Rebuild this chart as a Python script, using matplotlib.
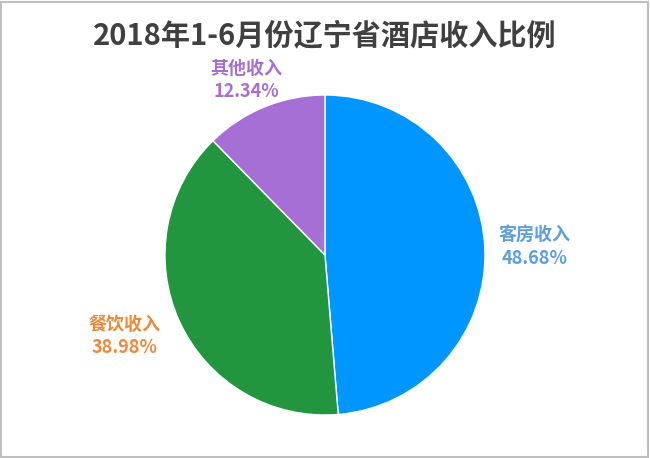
import numpy as np
import matplotlib
matplotlib.use('Agg')
import matplotlib.pyplot as plt
from matplotlib.patches import Rectangle

plt.rcParams['font.family'] = ['Noto Sans CJK SC', 'DejaVu Sans']

# data
labels = ['客房收入', '餐饮收入', '其他收入']
shares = [48.68, 38.98, 12.34]
wedge_colors = ['#0096FF', '#21963F', '#A66FD6']
text_colors = ['#5B9FE0', '#F0883A', '#A66FD6']
label_dist = [1.31, 1.35, 1.20]
label_turn = [0, -2.5, 2]

fig = plt.figure(figsize=(6.5, 4.58), dpi=100)
ax = fig.add_axes([0.2538, 0.0939, 0.4923, 0.6987])

wedges, _ = ax.pie(shares, colors=wedge_colors, startangle=90, counterclock=False,
                   wedgeprops=dict(edgecolor='white', linewidth=1))
ax.set_aspect('equal')
ax.set_xlim(-1, 1)
ax.set_ylim(-1, 1)

for w, lab, val, c, d, t in zip(wedges, labels, shares, text_colors, label_dist, label_turn):
    ang = np.deg2rad((w.theta1 + w.theta2) / 2 + t)
    x, y = d * np.cos(ang), d * np.sin(ang)
    ax.text(x, y, f'{lab}\n{val:.2f}%', color=c, fontsize=13, fontweight='bold',
            ha='center', va='center', linespacing=1.3, clip_on=False)

fig.text(0.5, 0.922, '2018年1-6月份辽宁省酒店收入比例', ha='center', va='center',
         fontsize=21, fontweight='bold', color='#404040')

fig.patches.append(Rectangle((0.002, 0.003), 0.995, 0.993, transform=fig.transFigure,
                             fill=False, edgecolor='#BFBFBF', linewidth=1.5))

fig.savefig('out.png', dpi=100)
